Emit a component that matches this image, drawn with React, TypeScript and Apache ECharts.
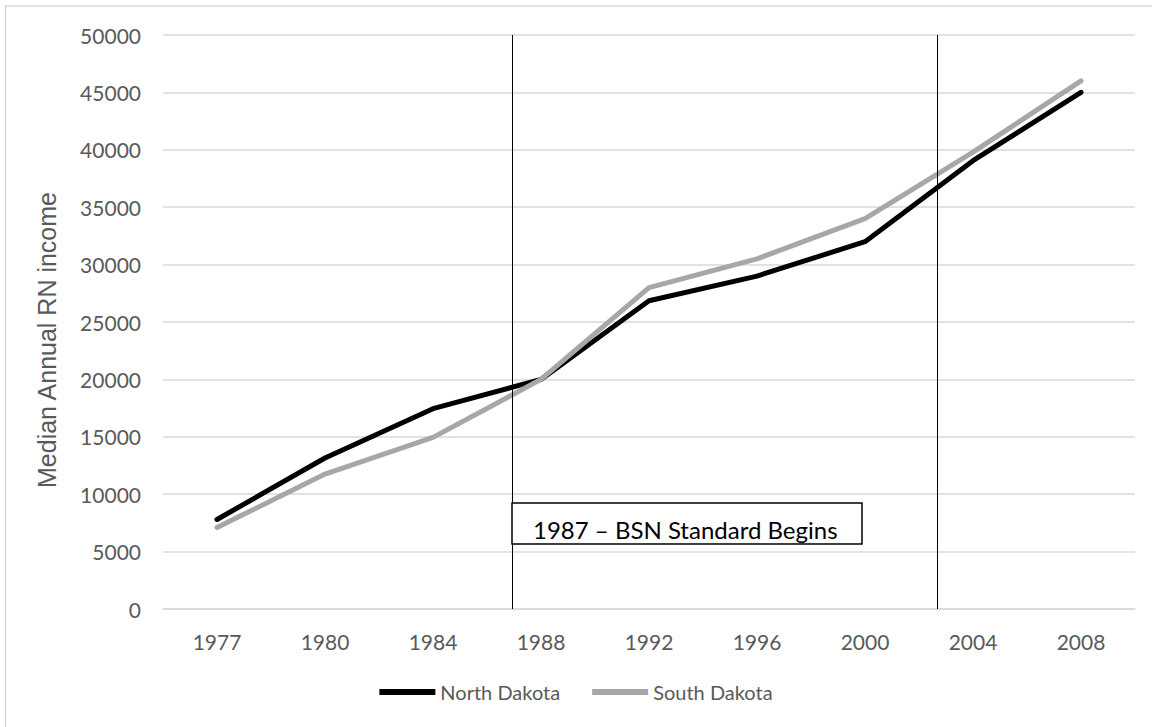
import React, { useEffect, useRef } from "react";
import * as echarts from "echarts";

// Survey years on the horizontal axis
const years = ["1977", "1980", "1984", "1988", "1992", "1996", "2000", "2004", "2008"];

// Median annual RN income by state
const northDakota = [7800, 13150, 17450, 20000, 26850, 29000, 32000, 39050, 45000];
const southDakota = [7100, 11750, 14950, 20000, 28000, 30500, 34000, 39800, 46000];

// Reference lines, as fractional positions along the year axis
const referenceLines = [2.73, 6.67];
const annotationText = "1987 – BSN Standard Begins";

const labelFont = "Lato, 'Open Sans', sans-serif";

export default function App() {
  const ref = useRef<HTMLDivElement>(null);

  useEffect(() => {
    document.body.style.margin = "0";
    const chart = echarts.init(ref.current!, undefined, { renderer: "svg" });
    chart.setOption({
      animation: false,
      backgroundColor: "#ffffff",
      grid: { left: 163, right: 17, top: 35, bottom: 118 },
      legend: {
        bottom: 20,
        left: "center",
        itemWidth: 56,
        itemHeight: 6,
        itemGap: 32,
        icon: "rect",
        textStyle: { fontFamily: labelFont, fontSize: 20, color: "#595959" },
        data: ["North Dakota", "South Dakota"],
      },
      xAxis: [
        {
          type: "category",
          data: years,
          boundaryGap: true,
          axisLine: { show: true, lineStyle: { color: "#d9d9d9", width: 1.5 } },
          axisTick: { show: false },
          axisLabel: { fontFamily: labelFont, fontSize: 21, color: "#595959", margin: 22 },
          splitLine: { show: false },
        },
        {
          type: "value",
          min: -0.5,
          max: years.length - 0.5,
          show: false,
        },
      ],
      yAxis: {
        type: "value",
        min: 0,
        max: 50000,
        interval: 5000,
        axisLine: { show: false },
        axisTick: { show: false },
        axisLabel: {
          fontFamily: labelFont,
          fontSize: 21,
          color: "#595959",
          margin: 22,
          formatter: (v: number) => String(v),
        },
        splitLine: { lineStyle: { color: "#d9d9d9", width: 1.5 } },
      },
      series: [
        {
          name: "North Dakota",
          type: "line",
          data: northDakota,
          symbol: "none",
          itemStyle: { color: "#000000" },
          lineStyle: { color: "#000000", width: 5, cap: "round", join: "round" },
          z: 3,
        },
        {
          name: "South Dakota",
          type: "line",
          data: southDakota,
          symbol: "none",
          itemStyle: { color: "#a8a6a6" },
          lineStyle: { color: "#a8a6a6", width: 5, cap: "round", join: "round" },
          z: 4,
        },
        {
          name: "reference",
          type: "line",
          xAxisIndex: 1,
          data: [],
          silent: true,
          z: 5,
          markLine: {
            silent: true,
            symbol: "none",
            label: { show: false },
            lineStyle: { color: "#000000", width: 1, type: "solid" },
            data: referenceLines.map((v) => ({ xAxis: v })),
          },
        },
      ],
      graphic: [
        {
          type: "rect",
          shape: { x: 5.5, y: 6, width: 1300, height: 900 },
          style: { fill: "none", stroke: "#d9d9d9", lineWidth: 1.5 },
          silent: true,
        },
        {
          type: "text",
          x: 47,
          y: 340,
          rotation: Math.PI / 2,
          style: {
            text: "Median Annual RN income",
            font: "25px 'Liberation Sans', Arial, sans-serif",
            fill: "#595959",
            align: "center",
            verticalAlign: "middle",
          },
        },
        {
          type: "rect",
          z: 10,
          shape: { x: 512, y: 503, width: 350, height: 41 },
          style: { fill: "#ffffff", stroke: "#000000", lineWidth: 1.5 },
        },
        {
          type: "text",
          z: 11,
          x: 533,
          y: 529,
          style: {
            text: annotationText,
            font: "24px " + labelFont,
            fill: "#000000",
            align: "left",
            verticalAlign: "middle",
          },
        },
      ],
    });
    return () => chart.dispose();
  }, []);

  return <div ref={ref} style={{ width: 1152, height: 727 }} />;
}
